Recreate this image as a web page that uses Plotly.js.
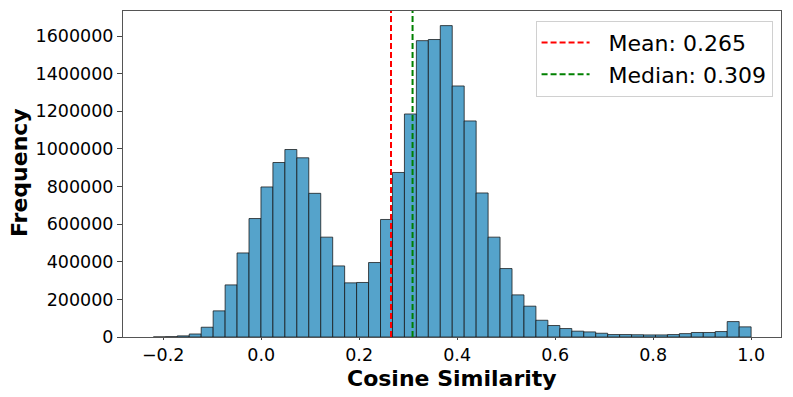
<!DOCTYPE html>
<html>
<head>
<meta charset="utf-8">
<script src="https://cdn.plot.ly/plotly-3.0.1.min.js"></script>
<style>
  html, body { margin: 0; padding: 0; background: #fff; }
  #plot { width: 793px; height: 397px; }
</style>
</head>
<body>
<div id="plot"></div>
<script>
// histogram: 50 bins from min to max cosine similarity
var binLo = -0.22;
var binHi = 1.0;
var counts = [
  300, 1500, 6000, 16000, 52000, 139000, 277000, 447000, 630000, 798000,
  928000, 997000, 953000, 764000, 531000, 378000, 288000, 290000, 396000, 625000,
  875000, 1186000, 1576000, 1582000, 1656000, 1335000, 1149000, 766000, 531000, 364000,
  224000, 164000, 89000, 61000, 45000, 31000, 27000, 20000, 13000, 13000,
  12000, 11000, 11000, 13000, 18000, 24000, 24000, 29000, 82000, 54000
];
var meanVal = 0.265;
var medianVal = 0.309;
var xTicks = [-0.2, 0.0, 0.2, 0.4, 0.6, 0.8, 1.0];
var yTicks = [0, 200000, 400000, 600000, 800000, 1000000, 1200000, 1400000, 1600000];

var binW = (binHi - binLo) / counts.length;
var centers = counts.map(function(c, i) { return binLo + binW * (i + 0.5); });

var font = 'DejaVu Sans, Liberation Sans, sans-serif';
var gap = '\u00a0\u00a0'; // space between legend line and label

var bars = {
  type: 'bar',
  x: centers,
  y: counts,
  width: binW,
  marker: {
    color: '#55a3cb',
    line: { color: 'rgba(20,20,20,0.75)', width: 1 }
  },
  showlegend: false,
  hoverinfo: 'x+y'
};

var layout = {
  width: 793,
  height: 397,
  margin: { l: 123, r: 12, t: 11, b: 60 },
  paper_bgcolor: '#fff',
  plot_bgcolor: '#fff',
  bargap: 0,
  font: { family: font, size: 17.5, color: '#000' },
  xaxis: {
    range: [-0.282, 1.061],
    tickvals: xTicks,
    tickformat: '.1f',
    ticks: 'outside',
    ticklen: 2,
    tickcolor: '#444',
    showline: true,
    linecolor: '#555',
    linewidth: 1,
    mirror: true,
    showgrid: false,
    zeroline: false,
    automargin: false
  },
  yaxis: {
    range: [0, 1733700],
    tickvals: yTicks,
    tickformat: 'd',
    ticks: 'outside',
    ticklen: 5,
    tickcolor: '#444',
    showline: true,
    linecolor: '#555',
    linewidth: 1,
    mirror: true,
    showgrid: false,
    zeroline: false,
    automargin: false
  },
  // axis titles placed as annotations for exact positioning
  annotations: [
    {
      text: '<b>Cosine Similarity</b>', xref: 'paper', yref: 'paper',
      x: 0.5, y: -0.126, xanchor: 'center', yanchor: 'middle',
      showarrow: false, font: { size: 22 }
    },
    {
      text: '<b>Frequency</b>', xref: 'paper', yref: 'paper',
      x: -0.157, y: 0.505, xanchor: 'center', yanchor: 'middle',
      textangle: -90, showarrow: false, font: { size: 22 }
    }
  ],
  shapes: [
    {
      type: 'line', xref: 'x', yref: 'paper',
      x0: meanVal, x1: meanVal, y0: 0, y1: 1,
      line: { color: 'red', width: 2, dash: '6px,3px' },
      name: gap + 'Mean: ' + meanVal.toFixed(3), showlegend: true
    },
    {
      type: 'line', xref: 'x', yref: 'paper',
      x0: medianVal, x1: medianVal, y0: 0, y1: 1,
      line: { color: 'green', width: 2, dash: '6px,3px' },
      name: gap + 'Median: ' + medianVal.toFixed(3), showlegend: true
    }
  ],
  legend: {
    x: 0.627, y: 0.97, xanchor: 'left', yanchor: 'top',
    bgcolor: 'rgba(255,255,255,0.8)',
    bordercolor: '#d0d0d0',
    borderwidth: 1,
    itemwidth: 48,
    font: { size: 22 }
  }
};

Plotly.newPlot('plot', [bars], layout, { displayModeBar: false, staticPlot: true });
</script>
</body>
</html>
